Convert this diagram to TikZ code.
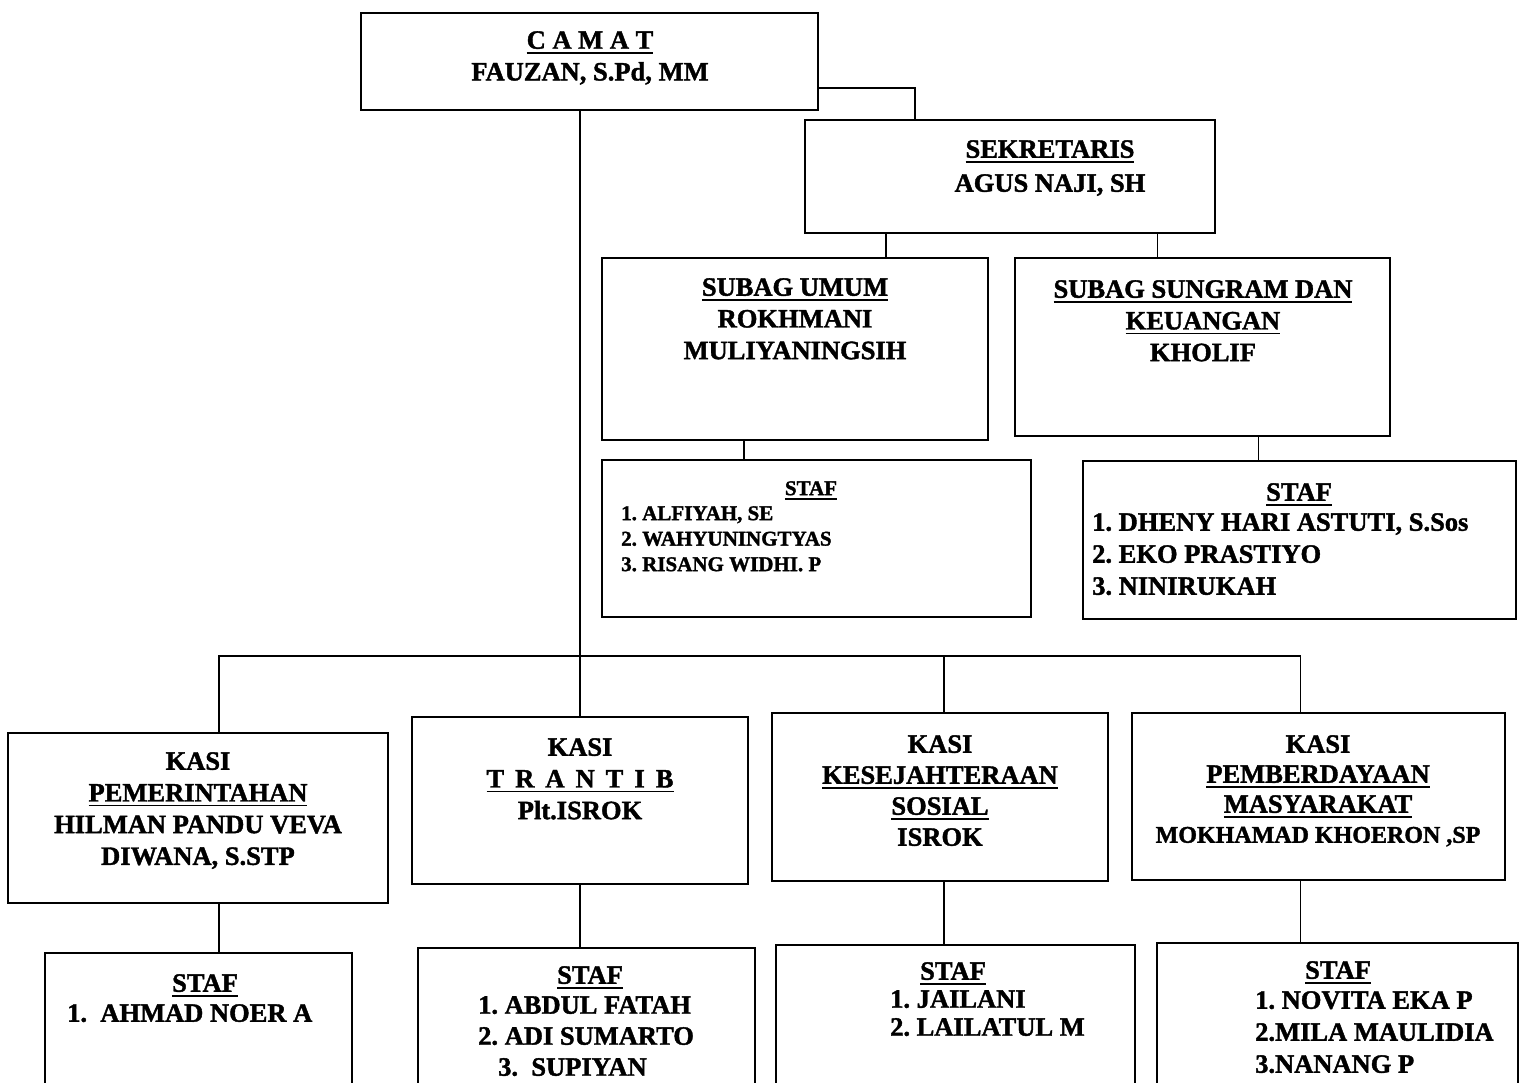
\documentclass[tikz,border=0pt]{standalone}
\usepackage{fontspec}
\setmainfont[BoldFeatures={FakeBold=1.5}]{Liberation Serif}
\newsavebox{\ulnbox}
\newcommand{\uln}[1]{\sbox{\ulnbox}{#1}\rlap{\rule[-5pt]{\wd\ulnbox}{1.9pt}}\usebox{\ulnbox}}
\frenchspacing

\begin{document}
\begin{tikzpicture}[x=1pt,y=-1pt,
    unit/.style={draw,line width=2.8pt,inner sep=0pt},
    link/.style={line width=1.9pt},
    head/.style={font=\bfseries\fontsize{26.5}{31.7}\selectfont,align=center,inner sep=0pt,anchor=north},
    roll/.style={font=\bfseries\fontsize{26.5}{31.7}\selectfont,align=left,inner sep=0pt,anchor=north west}]
  \useasboundingbox (0,0) rectangle (1523,1082);
  \clip (0,0) rectangle (1523,1082);
  \fill[white] (0,0) rectangle (1523,1082);

  % boxes: name / left / top / right / bottom
  \foreach \nm/\xa/\ya/\xb/\yb in {
      camat/361/13/818/110,
      sekretaris/805/120/1215/233,
      subumum/602/258/988/440,
      subkeu/1015/258/1390/436,
      stafumum/602/460/1031/617,
      stafkeu/1083/461/1516/619,
      pemerintahan/8/733/388/903,
      trantib/412/717/748/884,
      kesos/772/713/1108/881,
      pemas/1132/713/1505/880,
      stafpem/45/953/352/1120,
      staftrantib/418/948/755/1120,
      stafkesos/776/945/1135/1120,
      stafpemas/1157/943/1518/1120}
    \node[unit,minimum width={\xb-\xa},minimum height={\yb-\ya}] (\nm)
      at ({(\xa+\xb)/2},{(\ya+\yb)/2}) {};

  % top part
  \node[head] (camat-t) at (590,31) {\uln{C A M A T}\\FAUZAN, S.Pd, MM};
  \node[head,font=\bfseries\fontsize{26.5}{34}\selectfont] (sekretaris-t) at (1050,140)
    {\uln{SEKRETARIS}\\AGUS NAJI, SH};
  \node[head] (subumum-t) at (795,278) {\uln{SUBAG UMUM}\\ROKHMANI\\MULIYANINGSIH};
  \node[head] (subkeu-t) at (1203,280) {\uln{SUBAG SUNGRAM DAN}\\\uln{KEUANGAN}\\KHOLIF};
  \node[head,font=\bfseries\fontsize{21}{25.5}\selectfont] (stafumum-h) at (811,481) {\uln{STAF}};
  \node[roll,font=\bfseries\fontsize{21}{25.5}\selectfont] (stafumum-l) at (621,506)
    {1. ALFIYAH, SE\\2. WAHYUNINGTYAS\\3. RISANG WIDHI. P};
  \node[head] (stafkeu-h) at (1299,483) {\uln{STAF}};
  \node[roll,font=\bfseries\fontsize{26.5}{32}\selectfont] (stafkeu-l) at (1092,513)
    {1. DHENY HARI ASTUTI, S.Sos\\2. EKO PRASTIYO\\3. NINIRUKAH};

  % kasi row
  \node[head] (pemerintahan-t) at (198,752)
    {KASI\\\uln{PEMERINTAHAN}\\HILMAN PANDU VEVA\\DIWANA, S.STP};
  \node[head] (trantib-t) at (580,738) {KASI\\\uln{T \,R \,A \,N \,T \,I \,B}\\Plt.ISROK};
  \node[head,font=\bfseries\fontsize{26.5}{31}\selectfont] (kesos-t) at (940,735)
    {KASI\\\uln{KESEJAHTERAAN}\\\uln{SOSIAL}\\ISROK};
  \node[head,font=\bfseries\fontsize{26.5}{30}\selectfont] (pemas-t) at (1318,735)
    {KASI\\\uln{PEMBERDAYAAN}\\\uln{MASYARAKAT}\\{\fontsize{24}{30}\selectfont MOKHAMAD KHOERON ,SP}};

  % staf row
  \node[head] (stafpem-h) at (205,974) {\uln{STAF}};
  \node[roll] (stafpem-l) at (67,1004) {1.\ \ AHMAD NOER A};
  \node[head] (staftrantib-h) at (590,966) {\uln{STAF}};
  \node[roll,font=\bfseries\fontsize{26.5}{31}\selectfont] (staftrantib-l) at (478,996)
    {1. ABDUL FATAH\\2. ADI SUMARTO\\\hspace*{20pt}3.\ \ SUPIYAN};
  \node[head] (stafkesos-h) at (953,962) {\uln{STAF}};
  \node[roll,font=\bfseries\fontsize{26.5}{28}\selectfont] (stafkesos-l) at (890,990)
    {1. JAILANI\\2. LAILATUL M};
  \node[head] (stafpemas-h) at (1338,961) {\uln{STAF}};
  \node[roll,font=\bfseries\fontsize{26.5}{32}\selectfont] (stafpemas-l) at (1255,991)
    {1. NOVITA EKA P\\2.MILA MAULIDIA\\3.NANANG P};

  % connectors
  \draw[link] ([yshift=23pt]camat.south east) -| ([xshift=-95pt]sekretaris.north);
  \draw[link] (camat.south -| trantib.north) -- (trantib.north);
  \path ([yshift=60pt]trantib.north) coordinate (bus);
  \draw[link] ([xshift=21pt]pemerintahan.north) |- (bus) -| ([xshift=-18pt]pemas.north);
  \draw[link] ([xshift=4pt]kesos.north) coordinate (j) -- (j |- bus);
  \draw[link] ([xshift=91pt]subumum.north) coordinate (j) -- (j |- sekretaris.south);
  \draw[link] ([xshift=-45pt]subkeu.north) coordinate (j) -- (j |- sekretaris.south);
  \draw[link] ([xshift=-51pt]subumum.south) coordinate (j) -- (j |- stafumum.north);
  \draw[link] ([xshift=56pt]subkeu.south) coordinate (j) -- (j |- stafkeu.north);
  \foreach \up/\dn/\dx in {pemerintahan/stafpem/21, trantib/staftrantib/0,
      kesos/stafkesos/4, pemas/stafpemas/-18}
    \draw[link] ([xshift=\dx pt]\up.south) coordinate (j) -- (j |- \dn.north);
\end{tikzpicture}
\end{document}
